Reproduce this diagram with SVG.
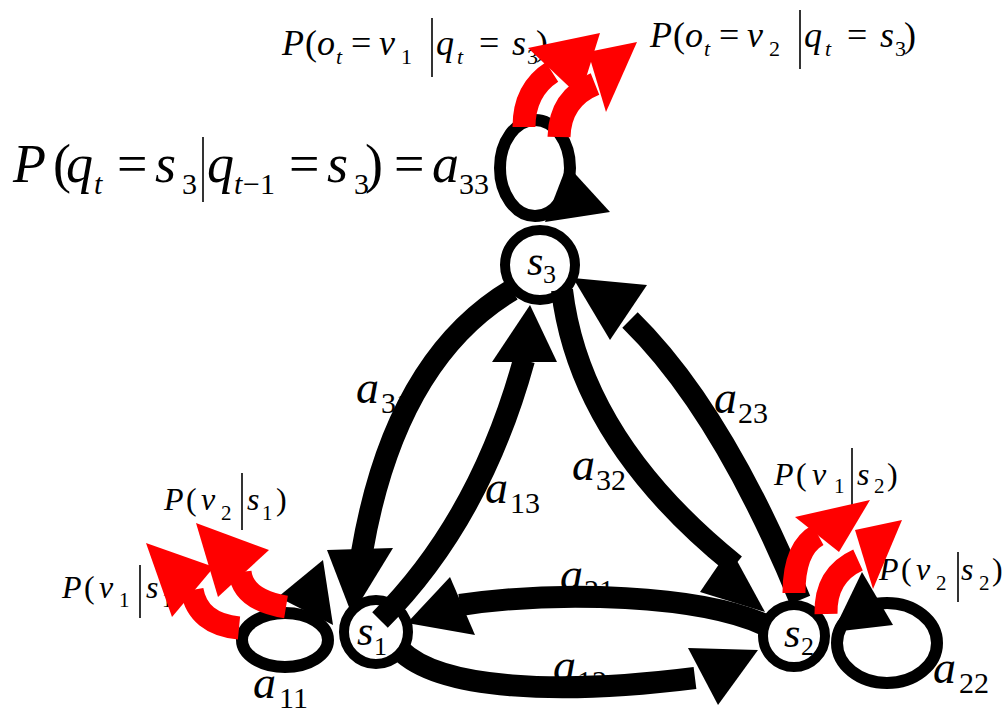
<svg xmlns="http://www.w3.org/2000/svg" width="1005" height="711" viewBox="0 0 1005 711">
<rect width="1005" height="711" fill="#fff"/>
<text x="13" y="182" style="font-family:'Liberation Serif',serif;font-size:54px;font-style:italic">P</text>
<text x="53" y="182" style="font-family:'Liberation Serif',serif;font-size:54px">(</text>
<text x="66" y="182" style="font-family:'Liberation Serif',serif;font-size:54px;font-style:italic">q</text>
<text x="94" y="194" style="font-family:'Liberation Serif',serif;font-size:30px;font-style:italic">t</text>
<text x="117" y="182" style="font-family:'Liberation Serif',serif;font-size:54px">=</text>
<text x="155" y="182" style="font-family:'Liberation Serif',serif;font-size:54px;font-style:italic">s</text>
<text x="182" y="194" style="font-family:'Liberation Serif',serif;font-size:30px">3</text>
<text x="207" y="182" style="font-family:'Liberation Serif',serif;font-size:54px;font-style:italic">q</text>
<text x="234" y="194" style="font-family:'Liberation Serif',serif;font-size:30px;font-style:italic">t</text>
<text x="243" y="194" style="font-family:'Liberation Serif',serif;font-size:30px">&#8722;1</text>
<text x="289" y="182" style="font-family:'Liberation Serif',serif;font-size:54px">=</text>
<text x="327" y="182" style="font-family:'Liberation Serif',serif;font-size:54px;font-style:italic">s</text>
<text x="354" y="194" style="font-family:'Liberation Serif',serif;font-size:30px">3</text>
<text x="365" y="182" style="font-family:'Liberation Serif',serif;font-size:54px">)</text>
<text x="394" y="182" style="font-family:'Liberation Serif',serif;font-size:54px">=</text>
<text x="432" y="182" style="font-family:'Liberation Serif',serif;font-size:54px;font-style:italic">a</text>
<text x="459" y="194" style="font-family:'Liberation Serif',serif;font-size:30px">33</text>

<text x="282" y="55" style="font-family:'Liberation Serif',serif;font-size:36px;font-style:italic">P</text>
<text x="305" y="55" style="font-family:'Liberation Serif',serif;font-size:36px">(</text>
<text x="317" y="55" style="font-family:'Liberation Serif',serif;font-size:36px;font-style:italic">o</text>
<text x="336" y="64" style="font-family:'Liberation Serif',serif;font-size:22px;font-style:italic">t</text>
<text x="351" y="55" style="font-family:'Liberation Serif',serif;font-size:36px">=</text>
<text x="379" y="55" style="font-family:'Liberation Serif',serif;font-size:36px;font-style:italic">v</text>
<text x="401" y="64" style="font-family:'Liberation Serif',serif;font-size:22px">1</text>
<text x="436" y="55" style="font-family:'Liberation Serif',serif;font-size:36px;font-style:italic">q</text>
<text x="457" y="64" style="font-family:'Liberation Serif',serif;font-size:22px;font-style:italic">t</text>
<text x="479" y="55" style="font-family:'Liberation Serif',serif;font-size:36px">=</text>
<text x="512" y="55" style="font-family:'Liberation Serif',serif;font-size:36px;font-style:italic">s</text>
<text x="527" y="64" style="font-family:'Liberation Serif',serif;font-size:22px">3</text>
<text x="536" y="55" style="font-family:'Liberation Serif',serif;font-size:36px">)</text>

<text x="650" y="47" style="font-family:'Liberation Serif',serif;font-size:36px;font-style:italic">P</text>
<text x="673" y="47" style="font-family:'Liberation Serif',serif;font-size:36px">(</text>
<text x="685" y="47" style="font-family:'Liberation Serif',serif;font-size:36px;font-style:italic">o</text>
<text x="704" y="56" style="font-family:'Liberation Serif',serif;font-size:22px;font-style:italic">t</text>
<text x="719" y="47" style="font-family:'Liberation Serif',serif;font-size:36px">=</text>
<text x="747" y="47" style="font-family:'Liberation Serif',serif;font-size:36px;font-style:italic">v</text>
<text x="769" y="56" style="font-family:'Liberation Serif',serif;font-size:22px">2</text>
<text x="804" y="47" style="font-family:'Liberation Serif',serif;font-size:36px;font-style:italic">q</text>
<text x="825" y="56" style="font-family:'Liberation Serif',serif;font-size:22px;font-style:italic">t</text>
<text x="847" y="47" style="font-family:'Liberation Serif',serif;font-size:36px">=</text>
<text x="880" y="47" style="font-family:'Liberation Serif',serif;font-size:36px;font-style:italic">s</text>
<text x="895" y="56" style="font-family:'Liberation Serif',serif;font-size:22px">3</text>
<text x="904" y="47" style="font-family:'Liberation Serif',serif;font-size:36px">)</text>

<text x="164" y="510" style="font-family:'Liberation Serif',serif;font-size:32px;font-style:italic">P</text>
<text x="186" y="510" style="font-family:'Liberation Serif',serif;font-size:32px">(</text>
<text x="201" y="510" style="font-family:'Liberation Serif',serif;font-size:32px;font-style:italic">v</text>
<text x="221" y="520" style="font-family:'Liberation Serif',serif;font-size:21px">2</text>
<text x="247" y="510" style="font-family:'Liberation Serif',serif;font-size:32px;font-style:italic">s</text>
<text x="262" y="520" style="font-family:'Liberation Serif',serif;font-size:21px">1</text>
<text x="276" y="510" style="font-family:'Liberation Serif',serif;font-size:32px">)</text>

<text x="62" y="598" style="font-family:'Liberation Serif',serif;font-size:32px;font-style:italic">P</text>
<text x="84" y="598" style="font-family:'Liberation Serif',serif;font-size:32px">(</text>
<text x="99" y="598" style="font-family:'Liberation Serif',serif;font-size:32px;font-style:italic">v</text>
<text x="119" y="607" style="font-family:'Liberation Serif',serif;font-size:21px">1</text>
<text x="146" y="598" style="font-family:'Liberation Serif',serif;font-size:32px;font-style:italic">s</text>
<text x="162" y="607" style="font-family:'Liberation Serif',serif;font-size:21px">1</text>
<text x="176" y="598" style="font-family:'Liberation Serif',serif;font-size:32px">)</text>

<text x="774" y="485" style="font-family:'Liberation Serif',serif;font-size:32px;font-style:italic">P</text>
<text x="796" y="485" style="font-family:'Liberation Serif',serif;font-size:32px">(</text>
<text x="812" y="485" style="font-family:'Liberation Serif',serif;font-size:32px;font-style:italic">v</text>
<text x="834" y="493" style="font-family:'Liberation Serif',serif;font-size:21px">1</text>
<text x="857" y="485" style="font-family:'Liberation Serif',serif;font-size:32px;font-style:italic">s</text>
<text x="874" y="493" style="font-family:'Liberation Serif',serif;font-size:21px">2</text>
<text x="887" y="485" style="font-family:'Liberation Serif',serif;font-size:32px">)</text>

<text x="879" y="580" style="font-family:'Liberation Serif',serif;font-size:32px;font-style:italic">P</text>
<text x="901" y="580" style="font-family:'Liberation Serif',serif;font-size:32px">(</text>
<text x="916" y="580" style="font-family:'Liberation Serif',serif;font-size:32px;font-style:italic">v</text>
<text x="936" y="590" style="font-family:'Liberation Serif',serif;font-size:21px">2</text>
<text x="961" y="580" style="font-family:'Liberation Serif',serif;font-size:32px;font-style:italic">s</text>
<text x="979" y="590" style="font-family:'Liberation Serif',serif;font-size:21px">2</text>
<text x="992" y="580" style="font-family:'Liberation Serif',serif;font-size:32px">)</text>

<g stroke="#000" stroke-width="1.6">
<line x1="203" y1="137" x2="203" y2="202"/>
<line x1="432" y1="18" x2="432" y2="77"/>
<line x1="800" y1="10" x2="800" y2="69"/>
<line x1="242" y1="473" x2="242" y2="530"/>
<line x1="140" y1="565" x2="140" y2="618"/>
<line x1="852" y1="448" x2="852" y2="505"/>
<line x1="958" y1="552" x2="958" y2="602"/>
</g>

<text x="356" y="403" style="font-family:'Liberation Serif',serif;font-size:46px;font-style:italic">a</text>
<text x="381" y="413" style="font-family:'Liberation Serif',serif;font-size:30px">31</text>
<text x="485" y="503" style="font-family:'Liberation Serif',serif;font-size:46px;font-style:italic">a</text>
<text x="510" y="513" style="font-family:'Liberation Serif',serif;font-size:30px">13</text>
<text x="572" y="480" style="font-family:'Liberation Serif',serif;font-size:46px;font-style:italic">a</text>
<text x="596" y="490" style="font-family:'Liberation Serif',serif;font-size:30px">32</text>
<text x="714" y="413" style="font-family:'Liberation Serif',serif;font-size:46px;font-style:italic">a</text>
<text x="738" y="423" style="font-family:'Liberation Serif',serif;font-size:30px">23</text>
<text x="560" y="590" style="font-family:'Liberation Serif',serif;font-size:46px;font-style:italic">a</text>
<text x="584" y="600" style="font-family:'Liberation Serif',serif;font-size:30px">21</text>
<text x="553" y="681" style="font-family:'Liberation Serif',serif;font-size:46px;font-style:italic">a</text>
<text x="577" y="691" style="font-family:'Liberation Serif',serif;font-size:30px">12</text>
<text x="253" y="698" style="font-family:'Liberation Serif',serif;font-size:46px;font-style:italic">a</text>
<text x="279" y="708" style="font-family:'Liberation Serif',serif;font-size:30px">11</text>
<text x="933" y="683" style="font-family:'Liberation Serif',serif;font-size:46px;font-style:italic">a</text>
<text x="959" y="693" style="font-family:'Liberation Serif',serif;font-size:30px">22</text>

<g id="s3">
<circle cx="540" cy="265" r="35" fill="#fff" stroke="#000" stroke-width="10"/>
<text x="527" y="275" style="font-family:'Liberation Serif',serif;font-size:42px;font-style:italic">s</text>
<text x="543" y="283" style="font-family:'Liberation Serif',serif;font-size:26px">3</text>
</g>
<g id="s1">
<circle cx="376" cy="632" r="32" fill="#fff" stroke="#000" stroke-width="10"/>
<text x="357" y="645" style="font-family:'Liberation Serif',serif;font-size:42px;font-style:italic">s</text>
<text x="374" y="655" style="font-family:'Liberation Serif',serif;font-size:26px">1</text>
</g>
<g id="s2">
<circle cx="794" cy="636" r="31" fill="#fff" stroke="#000" stroke-width="10"/>
<text x="784" y="647" style="font-family:'Liberation Serif',serif;font-size:42px;font-style:italic">s</text>
<text x="801" y="655" style="font-family:'Liberation Serif',serif;font-size:26px">2</text>
</g>

<g id="connectors">
<g fill="none" stroke="#000" stroke-width="22">
<path d="M 512 290 Q 395 360 362 552"/>
<path d="M 380 620 Q 480 520 524 360"/>
<path d="M 562 290 Q 580 440 735 565"/>
<path d="M 800 600 Q 722 410 630 320"/>
<path d="M 765 625 C 700 595 560 590 460 605"/>
<path d="M 400 650 C 440 690 560 695 695 678"/>
</g>
<g fill="none" stroke="#000" stroke-width="12">
<ellipse cx="285" cy="640" rx="43" ry="27"/>
<ellipse cx="887" cy="643" rx="50" ry="40"/>
<ellipse cx="535" cy="168" rx="35" ry="48"/>
</g>
<g fill="#000">
<polygon points="327,550 393,548 352,615"/>
<polygon points="492,362 557,362 530,305"/>
<polygon points="730,548 700,592 765,612"/>
<polygon points="573,278 647,285 610,340"/>
<polygon points="450,577 475,635 407,623"/>
<polygon points="688,648 718,705 758,650"/>
<polygon points="278,597 323,560 333,625"/>
<polygon points="833,632 893,625 862,572"/>
<polygon points="567,165 610,212 545,222"/>
</g>
</g>

<g id="emissions">
<g fill="none" stroke="#ff0000" stroke-width="23">
<path d="M 524 127 Q 524 90 552 72"/>
<path d="M 559 137 Q 560 98 595 84"/>
<path d="M 239 628 Q 198 624 192 590"/>
<path d="M 286 607 Q 243 600 240 572"/>
<path d="M 794 593 Q 794 548 818 535"/>
<path d="M 826 614 Q 825 575 858 560"/>
</g>
<g fill="#ff0000">
<polygon points="528,48 600,33 580,97"/>
<polygon points="588,52 637,42 606,112"/>
<polygon points="146,543 214,567 172,617"/>
<polygon points="196,523 269,550 218,597"/>
<polygon points="795,517 870,500 839,552"/>
<polygon points="855,530 902,520 873,589"/>
</g>
</g>
</svg>
